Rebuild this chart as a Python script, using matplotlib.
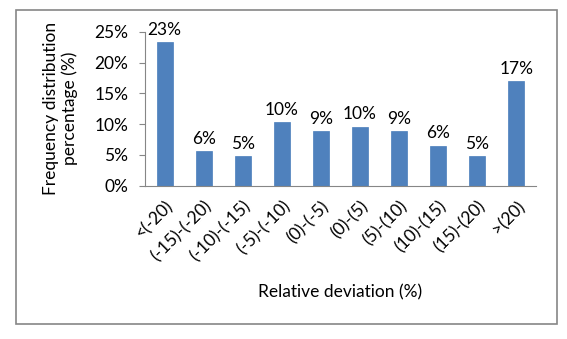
import matplotlib
matplotlib.use("Agg")
import matplotlib.pyplot as plt
from matplotlib.patches import Rectangle
from matplotlib.ticker import FuncFormatter, MultipleLocator

categories = ["<(-20)", "(-15)-(-20)", "(-10)-(-15)", "(-5)-(-10)", "(0)-(-5)",
              "(0)-(5)", "(5)-(10)", "(10)-(15)", "(15)-(20)", ">(20)"]
values = [23.4, 5.6, 4.8, 10.3, 8.9, 9.6, 8.9, 6.5, 4.8, 17.0]
labels = ["23%", "6%", "5%", "10%", "9%", "10%", "9%", "6%", "5%", "17%"]

plt.rcParams['font.family'] = ['Lato', 'DejaVu Sans']
fs = 12.5

fig = plt.figure(figsize=(5.67, 3.39), dpi=100)
fig.patches.append(Rectangle((16/567, 1-324/339), (557-16)/567, (324-10)/339,
                             transform=fig.transFigure, fill=False,
                             edgecolor='#868686', linewidth=1.2))
ax = fig.add_axes([145/567, 1-185.5/339, (536-145)/567, (185.5-32)/339])

x = list(range(len(categories)))
bars = ax.bar(x, values, width=0.41, color='#4F81BD', edgecolor='#4A7EBB', linewidth=0.5)
for xi, v, lab in zip(x, values, labels):
    ax.text(xi, v + 0.7, lab, ha='center', va='bottom', fontsize=fs, color='black')

ax.set_xlim(-0.5, len(categories) - 0.5)
ax.set_ylim(0, 25)
ax.yaxis.set_major_locator(MultipleLocator(5))
ax.yaxis.set_major_formatter(FuncFormatter(lambda v, p: f"{v:.0f}%"))
ax.set_xticks(x)
ax.set_xticklabels(categories, rotation=45, ha='right', rotation_mode='anchor', fontsize=fs)
ax.tick_params(axis='x', length=0, pad=9)
ax.tick_params(axis='y', length=4, width=0.8, color='#868686', labelsize=fs, pad=8)
for s in ['top', 'right']:
    ax.spines[s].set_visible(False)
for s in ['left', 'bottom']:
    ax.spines[s].set_color('#868686')
    ax.spines[s].set_linewidth(0.8)

ax.set_ylabel("Frequency distribution\npercentage (%)", fontsize=fs, labelpad=12, linespacing=1.15)
ax.set_xlabel("Relative deviation (%)", fontsize=fs, labelpad=14)

fig.savefig("out.png", dpi=100)
